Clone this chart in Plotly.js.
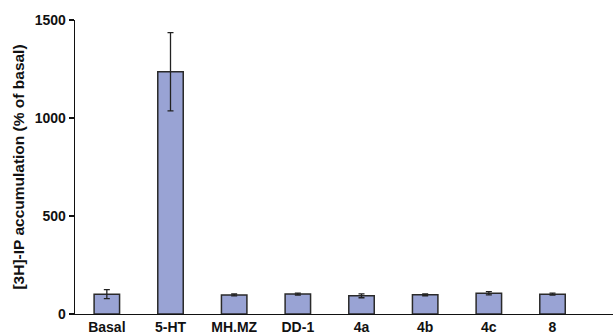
<!DOCTYPE html>
<html><head><meta charset="utf-8">
<script src="https://cdn.plot.ly/plotly-3.0.1.min.js"></script>
<style>body{margin:0;background:#fff}#c{width:614px;height:335px}</style>
</head><body><div id="c"></div>
<script>
const categories = ["Basal","5-HT","MH.MZ","DD-1","4a","4b","4c","8"];
const values = [101, 1236, 97, 102, 93, 98, 106, 101];
const errors = [23, 200, 5, 5, 10, 5, 8, 5];
const yTicks = [0, 500, 1000, 1500];
const yTitle = '[3H]-IP accumulation (% of basal)';

const F = 'Liberation Sans';
const trace = {
  type: 'bar',
  x: categories.map((c,i)=>i),
  y: values,
  width: 0.40,
  marker: {color: '#99a3d4', line: {color: '#2a2a2a', width: 1.5}},
  error_y: {type: 'data', array: errors, visible: true, color: '#222', thickness: 1.3, width: 3},
  hoverinfo: 'none'
};
const layout = {
  width: 614, height: 335,
  margin: {l: 75, r: 1, t: 20, b: 21},
  paper_bgcolor: '#fff', plot_bgcolor: '#fff',
  showlegend: false,
  font: {family: F, color: '#111'},
  xaxis: {
    range: [-0.5, 7.95],
    tickmode: 'array', tickvals: categories.map((c,i)=>i), ticktext: categories.map(c=>'<b>'+c+'</b>'),
    ticks: '', showgrid: false, zeroline: false,
    showline: true, linecolor: '#111', linewidth: 1.3,
    tickfont: {size: 14, family: F, color: '#111'}
  },
  yaxis: {
    range: [0, 1500],
    tickmode: 'array', tickvals: yTicks, ticktext: yTicks.map(v=>'<b>'+v+'</b>'),
    ticks: 'outside', ticklen: 5, tickwidth: 1.3, tickcolor: '#111',
    showgrid: false, zeroline: false,
    showline: true, linecolor: '#111', linewidth: 1.3,
    tickfont: {size: 14, family: F, color: '#111'},
    title: {text: '<b>'+yTitle+'</b>', standoff: 6,
      font: {size: 15.5, family: F, color: '#111'}}
  }
};
Plotly.newPlot('c', [trace], layout, {staticPlot: true, displayModeBar: false});
</script>
</body></html>
